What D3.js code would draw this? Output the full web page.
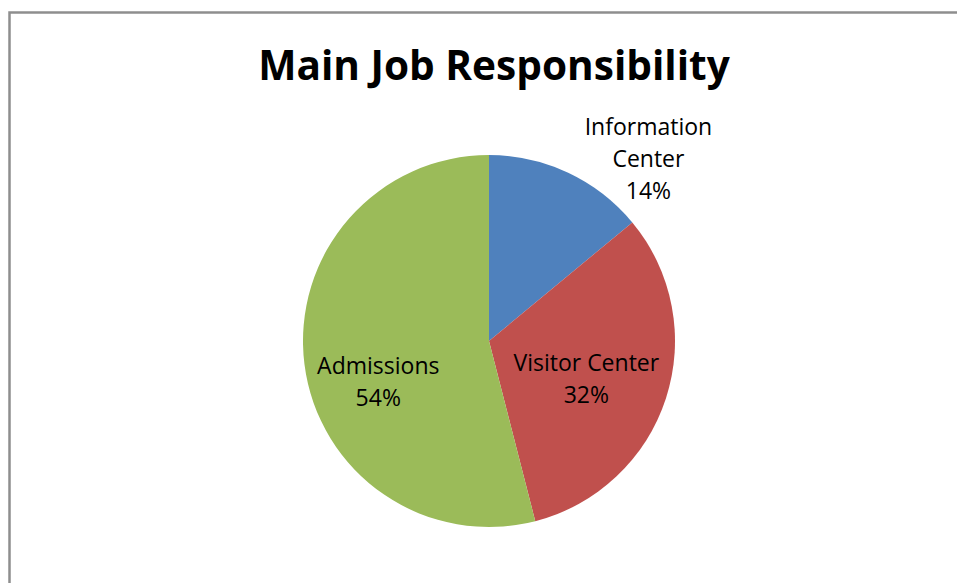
<!DOCTYPE html>
<html>
<head>
<meta charset="utf-8">
<script src="https://cdn.jsdelivr.net/npm/d3@7"></script>
<style>
  html, body { margin: 0; padding: 0; background: #fff; }
  svg { display: block; }
</style>
</head>
<body>
<svg id="chart" width="957" height="583"></svg>
<script>
// Share of respondents by main job responsibility
const categories = ["Information Center", "Visitor Center", "Admissions"];
const shares = [14, 32, 54];
const colors = ["#4F81BD", "#C0504D", "#9BBB59"];
// Label lines per category (text wraps as in the data labels)
const labelLines = [["Information", "Center"], ["Visitor Center"], ["Admissions"]];

const W = 957, H = 583;
const svg = d3.select("#chart");

// Chart frame (extends past the right and bottom edges)
svg.append("rect")
  .attr("x", 9.5).attr("y", 12.5)
  .attr("width", W + 20).attr("height", H + 20)
  .attr("fill", "#fff")
  .attr("stroke", "#8E8E8E")
  .attr("stroke-width", 2.5);

// Title
svg.append("text")
  .attr("x", 494).attr("y", 80)
  .attr("text-anchor", "middle")
  .attr("font-family", "'Open Sans', 'Liberation Sans', sans-serif")
  .attr("font-weight", "bold")
  .attr("font-size", 40.6)
  .attr("fill", "#000")
  .text("Main Job Responsibility");

const cx = 489, cy = 341, R = 186;

const pie = d3.pie().sort(null).value(d => d.value);
const data = categories.map((c, i) => ({ name: c, value: shares[i], color: colors[i], lines: labelLines[i] }));
const arcs = pie(data);

const arc = d3.arc().innerRadius(0).outerRadius(R);

const g = svg.append("g").attr("transform", `translate(${cx},${cy})`);

g.selectAll("path.slice")
  .data(arcs)
  .join("path")
  .attr("class", "slice")
  .attr("d", arc)
  .attr("fill", d => d.data.color);

// Data label placement: inside labels near the slice centroid,
// the narrow first slice gets its label outside the rim.
const labelPos = (d, i) => {
  const mid = (d.startAngle + d.endAngle) / 2;
  if (i === 0) {
    const a = mid + 0.28, r = R * 1.3;
    return [Math.sin(a) * r, -Math.cos(a) * r];
  }
  const r = i === 1 ? R * 0.55 : R * 0.6;
  return [Math.sin(mid) * r, -Math.cos(mid) * r + (i === 2 ? 27 : 6)];
};

const lineH = 32;
const labels = g.selectAll("text.label")
  .data(arcs)
  .join("text")
  .attr("class", "label")
  .attr("text-anchor", "middle")
  .attr("font-family", "'Open Sans', 'Liberation Sans', sans-serif")
  .attr("font-size", 23)
  .attr("fill", "#000")
  .attr("transform", (d, i) => {
    const [x, y] = labelPos(d, i);
    return `translate(${x},${y})`;
  });

labels.each(function (d) {
  const lines = d.data.lines.concat([d3.format(".0%")(d.data.value / 100)]);
  const n = lines.length;
  d3.select(this).selectAll("tspan")
    .data(lines)
    .join("tspan")
    .attr("x", 0)
    .attr("y", (l, k) => (k - (n - 1) / 2) * lineH + 8)
    .text(l => l);
});
</script>
</body>
</html>
